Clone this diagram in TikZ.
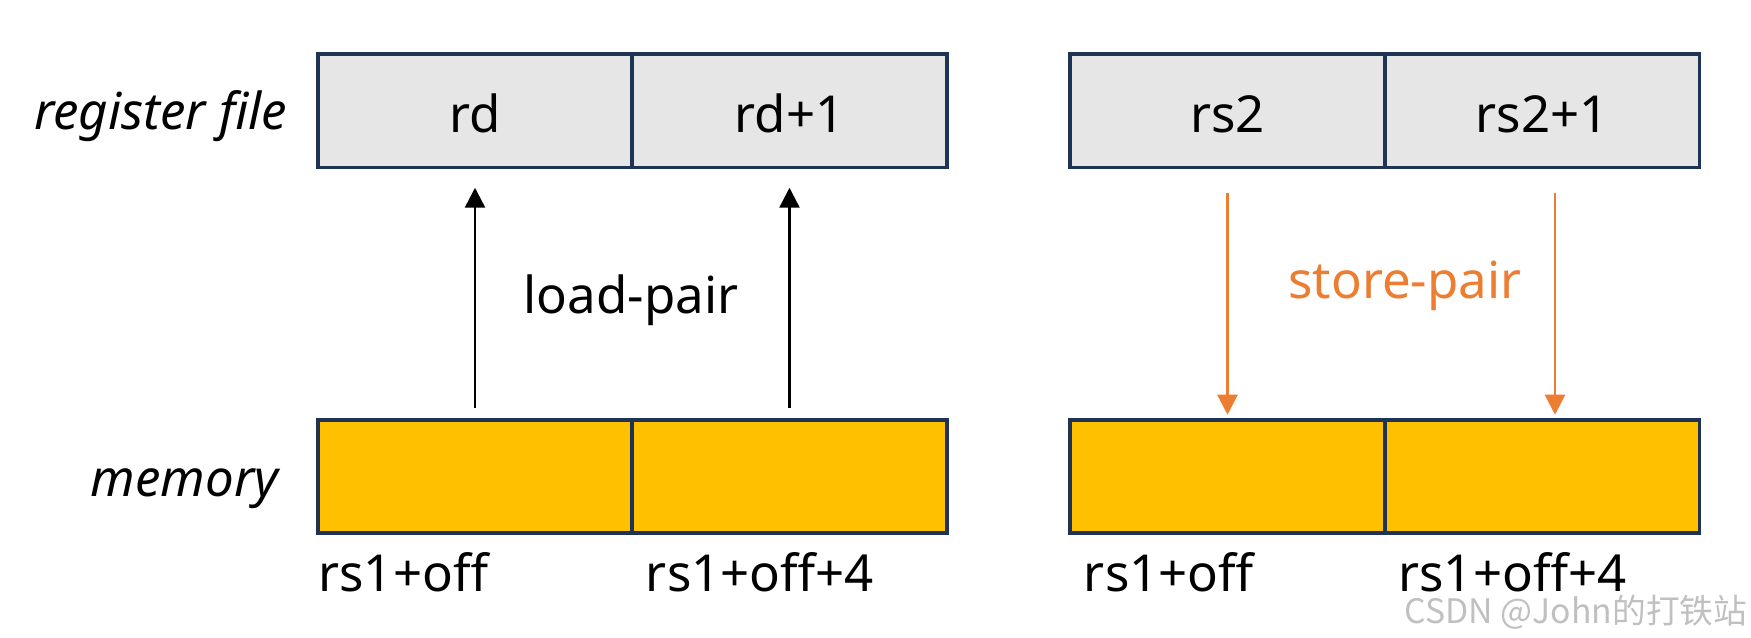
\documentclass[tikz,border=0pt]{standalone}
\usepackage{fontspec}
\setmainfont{Noto Sans}
\newfontfamily\cjkfont{Noto Sans CJK SC}
\usetikzlibrary{positioning,arrows.meta}
\definecolor{cellgray}{HTML}{E7E6E6}
\definecolor{cellyellow}{HTML}{FFC000}
\definecolor{celledge}{HTML}{1F3354}
\definecolor{storeorange}{HTML}{ED7D31}
\definecolor{markgray}{HTML}{C0C0C0}

\begin{document}
\begin{tikzpicture}[font=\fontsize{14.5}{17}\selectfont,
                cell/.style={draw=celledge,line width=1pt,minimum width=3.145cm,minimum height=1.135cm,
                             inner sep=0pt,outer sep=0pt,text height=1.25em,text depth=0pt},
                regcell/.style={cell,fill=cellgray},
                memcell/.style={cell,fill=cellyellow},
                addr/.style={anchor=west,inner sep=0pt},
                side/.style={anchor=east,inner sep=0pt,font=\fontsize{14.5}{17}\selectfont\itshape},
                loadarrow/.style={-{Triangle[width=0.2cm,length=0.2cm]},line width=0.7pt,black},
                storearrow/.style={-{Triangle[width=0.2cm,length=0.2cm]},line width=0.7pt,storeorange}]
                \useasboundingbox (0,0) rectangle (17.51,6.38);
                \node[side] (reglabel) at (2.88,5.22) {register file};
                \node[side] (memlabel) at (2.79,1.49) {memory};
                \node[regcell] (rd) at (4.75,5.27) {rd};
                \node[regcell,right=0pt of rd] (rdnext) {rd+1};
                \node[memcell] (lmem) at (4.75,1.615) {};
                \node[memcell,right=0pt of lmem] (lmemnext) {};
                \node[regcell] (rs) at (12.275,5.27) {rs2};
                \node[regcell,right=0pt of rs] (rsnext) {rs2+1};
                \node[memcell] (smem) at (12.275,1.615) {};
                \node[memcell,right=0pt of smem] (smemnext) {};
                \draw[loadarrow,shorten <=0.12cm,shorten >=0.2cm] (lmem) -- (rd);
                \draw[loadarrow,shorten <=0.12cm,shorten >=0.2cm] (lmemnext) -- (rdnext);
                \draw[storearrow,shorten <=0.25cm,shorten >=0.05cm] (rs) -- (smem);
                \draw[storearrow,shorten <=0.25cm,shorten >=0.05cm] ([xshift=0.13cm]rsnext.south) -- ([xshift=0.13cm]smemnext.north);
                \node (loadlabel) at (6.31,3.38) {load-pair};
                \node[storeorange] (storelabel) at (14.05,3.52) {store-pair};
                \node[addr] (laddr) at ([yshift=-0.39cm]lmem.south west) {rs1+off};
                \node[addr] (laddrnext) at ([xshift=0.13cm,yshift=-0.39cm]lmemnext.south west) {rs1+off+4};
                \node[addr] (saddr) at ([xshift=0.13cm,yshift=-0.39cm]smem.south west) {rs1+off};
                \node[addr] (saddrnext) at ([xshift=0.13cm,yshift=-0.39cm]smemnext.south west) {rs1+off+4};
                \node[anchor=east,inner sep=0pt,text=markgray,font=\fontsize{9.6}{11}\cjkfont] (mark) at (17.48,0.26) {CSDN @John的打铁站};
            \end{tikzpicture}
\end{document}
